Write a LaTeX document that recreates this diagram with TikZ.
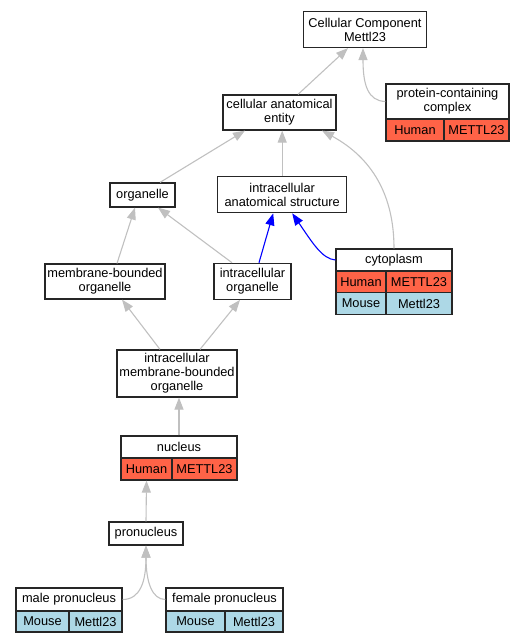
\documentclass[tikz,border=0pt]{standalone}
\usepackage{fontspec}
\setmainfont{Liberation Sans}
\usetikzlibrary{arrows.meta}
\definecolor{hum}{HTML}{FF6347}
\definecolor{mou}{HTML}{ADD8E6}
\definecolor{edg}{HTML}{C0C0C0}
\begin{document}
\begin{tikzpicture}[x=1pt,y=-1pt,
 box/.style={draw=black!85, line width=1.2pt, fill=white, inner sep=0pt, align=center, font=\fontsize{12.8}{14}\selectfont, text=black},
 hcell/.style={box, fill=hum},
 mcell/.style={box, fill=mou},
 gr/.style={draw=edg, line width=1.1pt, -{Triangle[length=12pt,width=9pt]}},
 bl/.style={draw=blue, line width=1.1pt, -{Triangle[length=12pt,width=9pt]}}]
\useasboundingbox (0,0) rectangle (525,643);
% nodes
\node[box, minimum width=123pt, minimum height=36pt] (cc) at (365,29.5) {Cellular Component\\Mettl23};
\node[box, minimum width=123pt, minimum height=35pt] (pcc) at (447.5,101.5) {protein-containing\\complex};
\node[hcell, minimum width=58pt, minimum height=22pt] (pccH) at (415,130) {Human};
\node[hcell, minimum width=65pt, minimum height=22pt] (pccG) at (476.5,130) {METTL23};
\node[box, minimum width=113pt, minimum height=35pt] (cae) at (279.5,112.5) {cellular anatomical\\entity};
\node[box, minimum width=65pt, minimum height=24pt] (org) at (142.5,195) {organelle};
\node[box, minimum width=129pt, minimum height=36pt] (ias) at (282.2,194.7) {intracellular\\anatomical structure};
\node[box, minimum width=116pt, minimum height=22pt] (cyto) at (394,260) {cytoplasm};
\node[hcell, minimum width=50pt, minimum height=22pt] (cytoH) at (361,282) {Human};
\node[hcell, minimum width=66pt, minimum height=22pt] (cytoHG) at (419,282) {METTL23};
\node[mcell, minimum width=50pt, minimum height=21.5pt] (cytoM) at (361,303.5) {Mouse};
\node[mcell, minimum width=66pt, minimum height=21.5pt] (cytoMG) at (419,303.5) {Mettl23};
\node[box, minimum width=120pt, minimum height=35pt] (mbo) at (105,281.5) {membrane-bounded\\organelle};
\node[box, minimum width=77pt, minimum height=36pt] (io) at (252.5,281.3) {intracellular\\organelle};
\node[box, minimum width=120pt, minimum height=47pt] (imbo) at (177,373.5) {intracellular\\membrane-bounded\\organelle};
\node[box, minimum width=116pt, minimum height=22pt] (nuc) at (179,447) {nucleus};
\node[hcell, minimum width=51pt, minimum height=22pt] (nucH) at (146.5,469) {Human};
\node[hcell, minimum width=65pt, minimum height=22pt] (nucG) at (204.5,469) {METTL23};
\node[box, minimum width=74pt, minimum height=23pt] (pro) at (146,533.5) {pronucleus};
\node[box, minimum width=106pt, minimum height=23pt] (male) at (69,599.5) {male pronucleus};
\node[mcell, minimum width=53pt, minimum height=21pt] (maleM) at (42.5,621.5) {Mouse};
\node[mcell, minimum width=53pt, minimum height=21pt] (maleG) at (95.5,621.5) {Mettl23};
\node[box, minimum width=117pt, minimum height=23pt] (fem) at (224.5,599.5) {female pronucleus};
\node[mcell, minimum width=59pt, minimum height=21pt] (femM) at (195.5,621.5) {Mouse};
\node[mcell, minimum width=58pt, minimum height=21pt] (femG) at (254,621.5) {Mettl23};
% edges
\draw[gr] ([xshift=18.5pt]cae.north) -- ([xshift=-17pt]cc.south);
\draw[gr] (pcc.west) .. controls (368,101) and (363,85) .. ([xshift=-2pt]cc.south);
\draw[gr] (ias.north) -- (ias.north |- cae.south);
\draw[gr] ([xshift=17.5pt]org.north) -- ([xshift=-34.5pt]cae.south);
\draw[gr] (cyto.north) .. controls (394,195) and (372,158) .. ([xshift=42.5pt]cae.south);
\draw[gr] ([xshift=12pt]mbo.north) -- ([xshift=-7.5pt]org.south);
\draw[gr] ([xshift=-20.5pt]io.north) -- ([xshift=15.5pt]org.south);
\draw[bl] ([xshift=6.5pt]io.north) -- ([xshift=-9pt]ias.south);
\draw[bl] (cyto.west) .. controls (322,259) and (312,242) .. ([xshift=10pt]ias.south);
\draw[gr] ([xshift=-17pt]imbo.north) -- ([xshift=17pt]mbo.south);
\draw[gr] ([xshift=23pt]imbo.north) -- ([xshift=-12.5pt]io.south);
\draw[gr] (nuc.north) -- (nuc.north |- imbo.south);
\draw[gr] (pro.north) -- (nucH.south);
\draw[gr] (male.east) .. controls (140,599.5) and (146,582) .. (pro.south);
\draw[gr] (fem.west) .. controls (152,599.5) and (146,582) .. (pro.south);
\end{tikzpicture}
\end{document}
